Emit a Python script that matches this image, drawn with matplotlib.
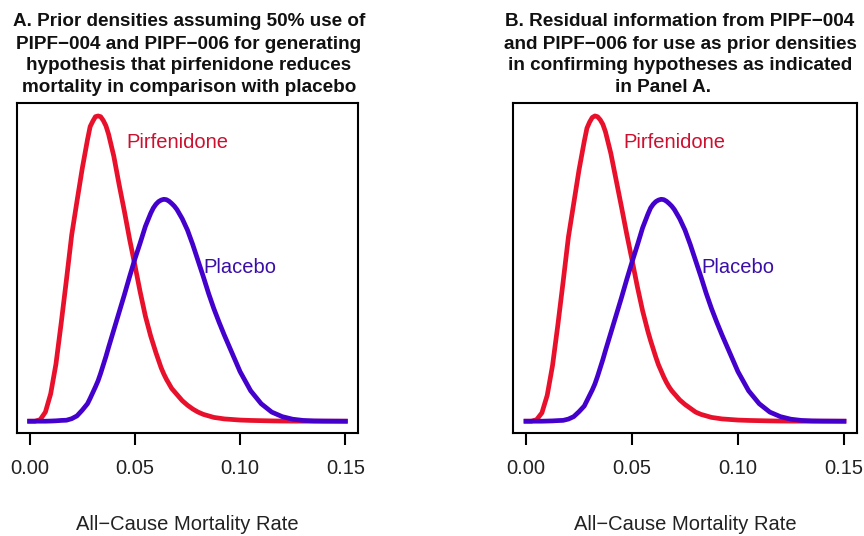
import matplotlib
matplotlib.use("Agg")
import matplotlib.pyplot as plt

rate = [0.0, 0.0025, 0.005, 0.0075, 0.01, 0.0125, 0.015, 0.0175, 0.02, 0.0225,
        0.025, 0.0275, 0.02875, 0.03, 0.03125, 0.0325, 0.03375, 0.035, 0.03625, 0.0375,
        0.04, 0.0425, 0.045, 0.0475, 0.05, 0.0525, 0.055, 0.0575, 0.05875, 0.06,
        0.06125, 0.0625, 0.06375, 0.065, 0.06625, 0.0675, 0.06875, 0.07, 0.0725, 0.075,
        0.0775, 0.08, 0.0825, 0.085, 0.0875, 0.09, 0.0925, 0.095, 0.0975, 0.10,
        0.105, 0.11, 0.115, 0.12, 0.125, 0.13, 0.135, 0.14, 0.145, 0.15]

# Panel A densities
pirf_a = [0.0, 0.0, 0.2, 1.2, 3.6, 7.5, 12.9, 18.6, 24.5, 28.9,
          33.2, 37.0, 38.7, 39.4, 40.0, 40.1, 40.0, 39.5, 38.8, 37.7,
          34.8, 31.1, 27.6, 23.9, 20.5, 17.0, 13.8, 11.2, 10.1, 9.0,
          8.0, 7.0, 6.2, 5.5, 4.9, 4.3, 3.9, 3.5, 2.7, 2.1,
          1.6, 1.2, 0.9, 0.7, 0.5, 0.4, 0.3, 0.25, 0.2, 0.15,
          0.1, 0.07, 0.04, 0.02, 0.01, 0.0, 0.0, 0.0, 0.0, 0.0]
plac_a = [0.0, 0.0, 0.0, 0.0, 0.02, 0.05, 0.1, 0.13, 0.33, 0.7,
          1.45, 2.3, 3.0, 3.75, 4.5, 5.3, 6.3, 7.4, 8.5, 9.7,
          12.0, 14.3, 16.6, 19.0, 21.3, 23.4, 25.6, 27.3, 28.0, 28.5,
          28.85, 29.05, 29.15, 29.1, 28.9, 28.6, 28.25, 27.8, 26.6, 25.1,
          23.2, 21.1, 19.0, 16.8, 14.8, 13.0, 11.3, 9.7, 8.1, 6.5,
          4.0, 2.3, 1.2, 0.6, 0.26, 0.1, 0.04, 0.02, 0.01, 0.0]

# Panel B densities
pirf_b = [0.0, 0.0, 0.2, 1.1, 3.4, 7.3, 12.6, 18.3, 24.2, 28.6,
          33.0, 36.8, 38.5, 39.3, 39.9, 40.1, 40.0, 39.6, 39.0, 38.0,
          35.2, 31.7, 28.2, 24.6, 21.2, 17.7, 14.5, 11.8, 10.6, 9.5,
          8.4, 7.4, 6.6, 5.8, 5.1, 4.5, 4.0, 3.6, 2.8, 2.2,
          1.7, 1.2, 0.9, 0.7, 0.5, 0.4, 0.3, 0.25, 0.2, 0.15,
          0.1, 0.07, 0.04, 0.02, 0.01, 0.0, 0.0, 0.0, 0.0, 0.0]
plac_b = [0.0, 0.0, 0.0, 0.0, 0.02, 0.04, 0.08, 0.11, 0.28, 0.6,
          1.25, 2.0, 2.7, 3.4, 4.1, 4.9, 5.9, 7.0, 8.1, 9.3,
          11.6, 13.9, 16.2, 18.6, 20.9, 23.1, 25.4, 27.2, 28.0, 28.5,
          28.85, 29.05, 29.15, 29.1, 28.9, 28.6, 28.25, 27.8, 26.6, 25.1,
          23.2, 21.1, 19.0, 16.8, 14.8, 13.0, 11.3, 9.7, 8.1, 6.5,
          4.0, 2.3, 1.2, 0.6, 0.26, 0.1, 0.04, 0.02, 0.01, 0.0]

xticks = [0.0, 0.05, 0.10, 0.15]
xticklabels = ["0.00", "0.05", "0.10", "0.15"]

title_a = ["A. Prior densities assuming 50% use of",
           "PIPF\u2212004 and PIPF\u2212006 for generating",
           "hypothesis that pirfenidone reduces",
           "mortality in comparison with placebo"]
title_b = ["B. Residual information from PIPF\u2212004",
           "and PIPF\u2212006 for use as prior densities",
           "in confirming hypotheses as indicated",
           "in Panel A."]

RED = "#E8102A"
BLUE = "#4400CC"
W, H = 864, 536

plt.rcParams["font.family"] = ["Liberation Sans", "DejaVu Sans"]

fig = plt.figure(figsize=(W / 100, H / 100), dpi=100)


def panel(left_px, right_px, pirf, plac, title, title_x, last_x):
    ax = fig.add_axes([left_px / W, (H - 433) / H, (right_px - left_px) / W, 330 / H])
    ax.plot(rate, pirf, color=RED, lw=3.4, solid_joinstyle="round")
    ax.plot(rate, plac, color=BLUE, lw=3.4, solid_joinstyle="round")
    ax.set_xlim(-0.006, 0.156)
    ax.set_ylim(-1.55, 41.8)
    ax.set_yticks([])
    ax.set_xticks(xticks)
    ax.set_xticklabels(xticklabels, fontsize=14.5, color="#222222")
    ax.tick_params(axis="x", length=8.5, width=1.5, pad=10, direction="out")
    for s in ax.spines.values():
        s.set_linewidth(1.5)
    ax.text(0.07, 36.6, "Pirfenidone", color="#CC1030", fontsize=14.5,
            ha="center", va="center")
    ax.text(0.10, 20.2, "Placebo", color="#3A0FA8", fontsize=14.5,
            ha="center", va="center")
    # four title lines, R centres each line on its own
    ys = [22, 44.5, 66, 88]
    for i, line in enumerate(title):
        cx = last_x if i == len(title) - 1 else title_x
        fig.text(cx / W, 1 - ys[i] / H, line, fontsize=13.6, fontweight="bold",
                 ha="center", va="center", color="#111111")
    cx = (left_px + right_px) / 2
    fig.text(cx / W, 1 - 524 / H, "All\u2212Cause Mortality Rate", fontsize=14.5,
             ha="center", va="center", color="#222222")
    return ax


panel(17, 358, pirf_a, plac_a, title_a, 189, 189)
panel(513.3, 856.7, pirf_b, plac_b, title_b, 680, 663)

fig.savefig("out.png", dpi=100)
